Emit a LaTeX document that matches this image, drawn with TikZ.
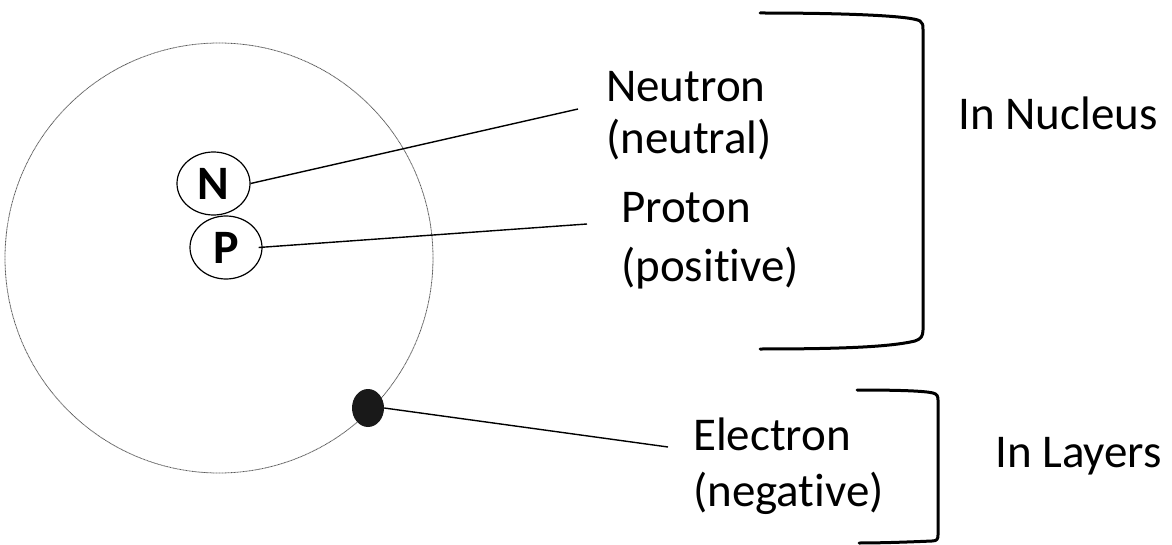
\documentclass[tikz,border=0pt]{standalone}
\usepackage{fontspec}
\setmainfont{Carlito}
\usetikzlibrary{shapes.geometric}
\begin{document}
\begin{tikzpicture}[x=1pt,y=-1pt,
  lbl/.style={anchor=base west,inner sep=0pt,font=\fontsize{47}{56}\selectfont},
  particle/.style={draw,ellipse,line width=1.2pt,inner sep=0pt,font=\bfseries\fontsize{48}{56}\selectfont},
  link/.style={line width=1.4pt},
  brk/.style={line width=3pt,line cap=round,line join=round}]
\useasboundingbox (0,0) rectangle (1172,545);
% orbit
\draw[black!65,line width=0.8pt,dash pattern=on 1pt off 0.5pt] (219,258) ellipse [x radius=214, y radius=215];
% nucleus particles
\node[particle,minimum width=73pt,minimum height=63pt] (N) at (213.5,183.5) {N};
\node[particle,minimum width=72pt,minimum height=63pt] (P) at (226,247.5) {P};
% electron
\node[ellipse,fill=black!90,inner sep=0pt,minimum width=32pt,minimum height=38pt] (E) at (368,408) {};
% labels
\node[lbl] (neutron) at (606,102) {Neutron};
\node[lbl] (neutral) at (606,154) {(neutral)};
\node[lbl] (proton) at (621,223) {Proton};
\node[lbl] (positive) at (621,281) {(posit\kern0pt ive)};
\node[lbl] (electron) at (693,450) {Electron};
\node[lbl] (negative) at (693,506) {(negat\kern0pt ive)};
\node[lbl] (nucleus) at (958,130) {In Nucleus};
\node[lbl] (layers) at (995,467) {In Layers};
% connector ends
\coordinate (nend) at (578,109);
\coordinate (pend) at (587,224);
\coordinate (eend) at (668,447);
\draw[link] (N.east) -- (nend);
\draw[link] ([xshift=-4pt]P.east) -- (pend);
\draw[link] (E.east) -- (eend);
% brackets
\draw[brk] (760,13) .. controls (850,13) and (912,16) .. (920,21)
  .. controls (923,23) and (923,25) .. (923,30) -- (923,330)
  .. controls (923,336) and (921,339) .. (915,341)
  .. controls (890,347) and (840,349) .. (760,349);
\draw[brk] (857,390) .. controls (900,390) and (925,391) .. (933,393)
  .. controls (937,394) and (938,396) .. (938,400) -- (938,535)
  .. controls (938,539) and (937,541) .. (932,541)
  .. controls (910,542) and (880,543) .. (859,543);
\end{tikzpicture}
\end{document}
